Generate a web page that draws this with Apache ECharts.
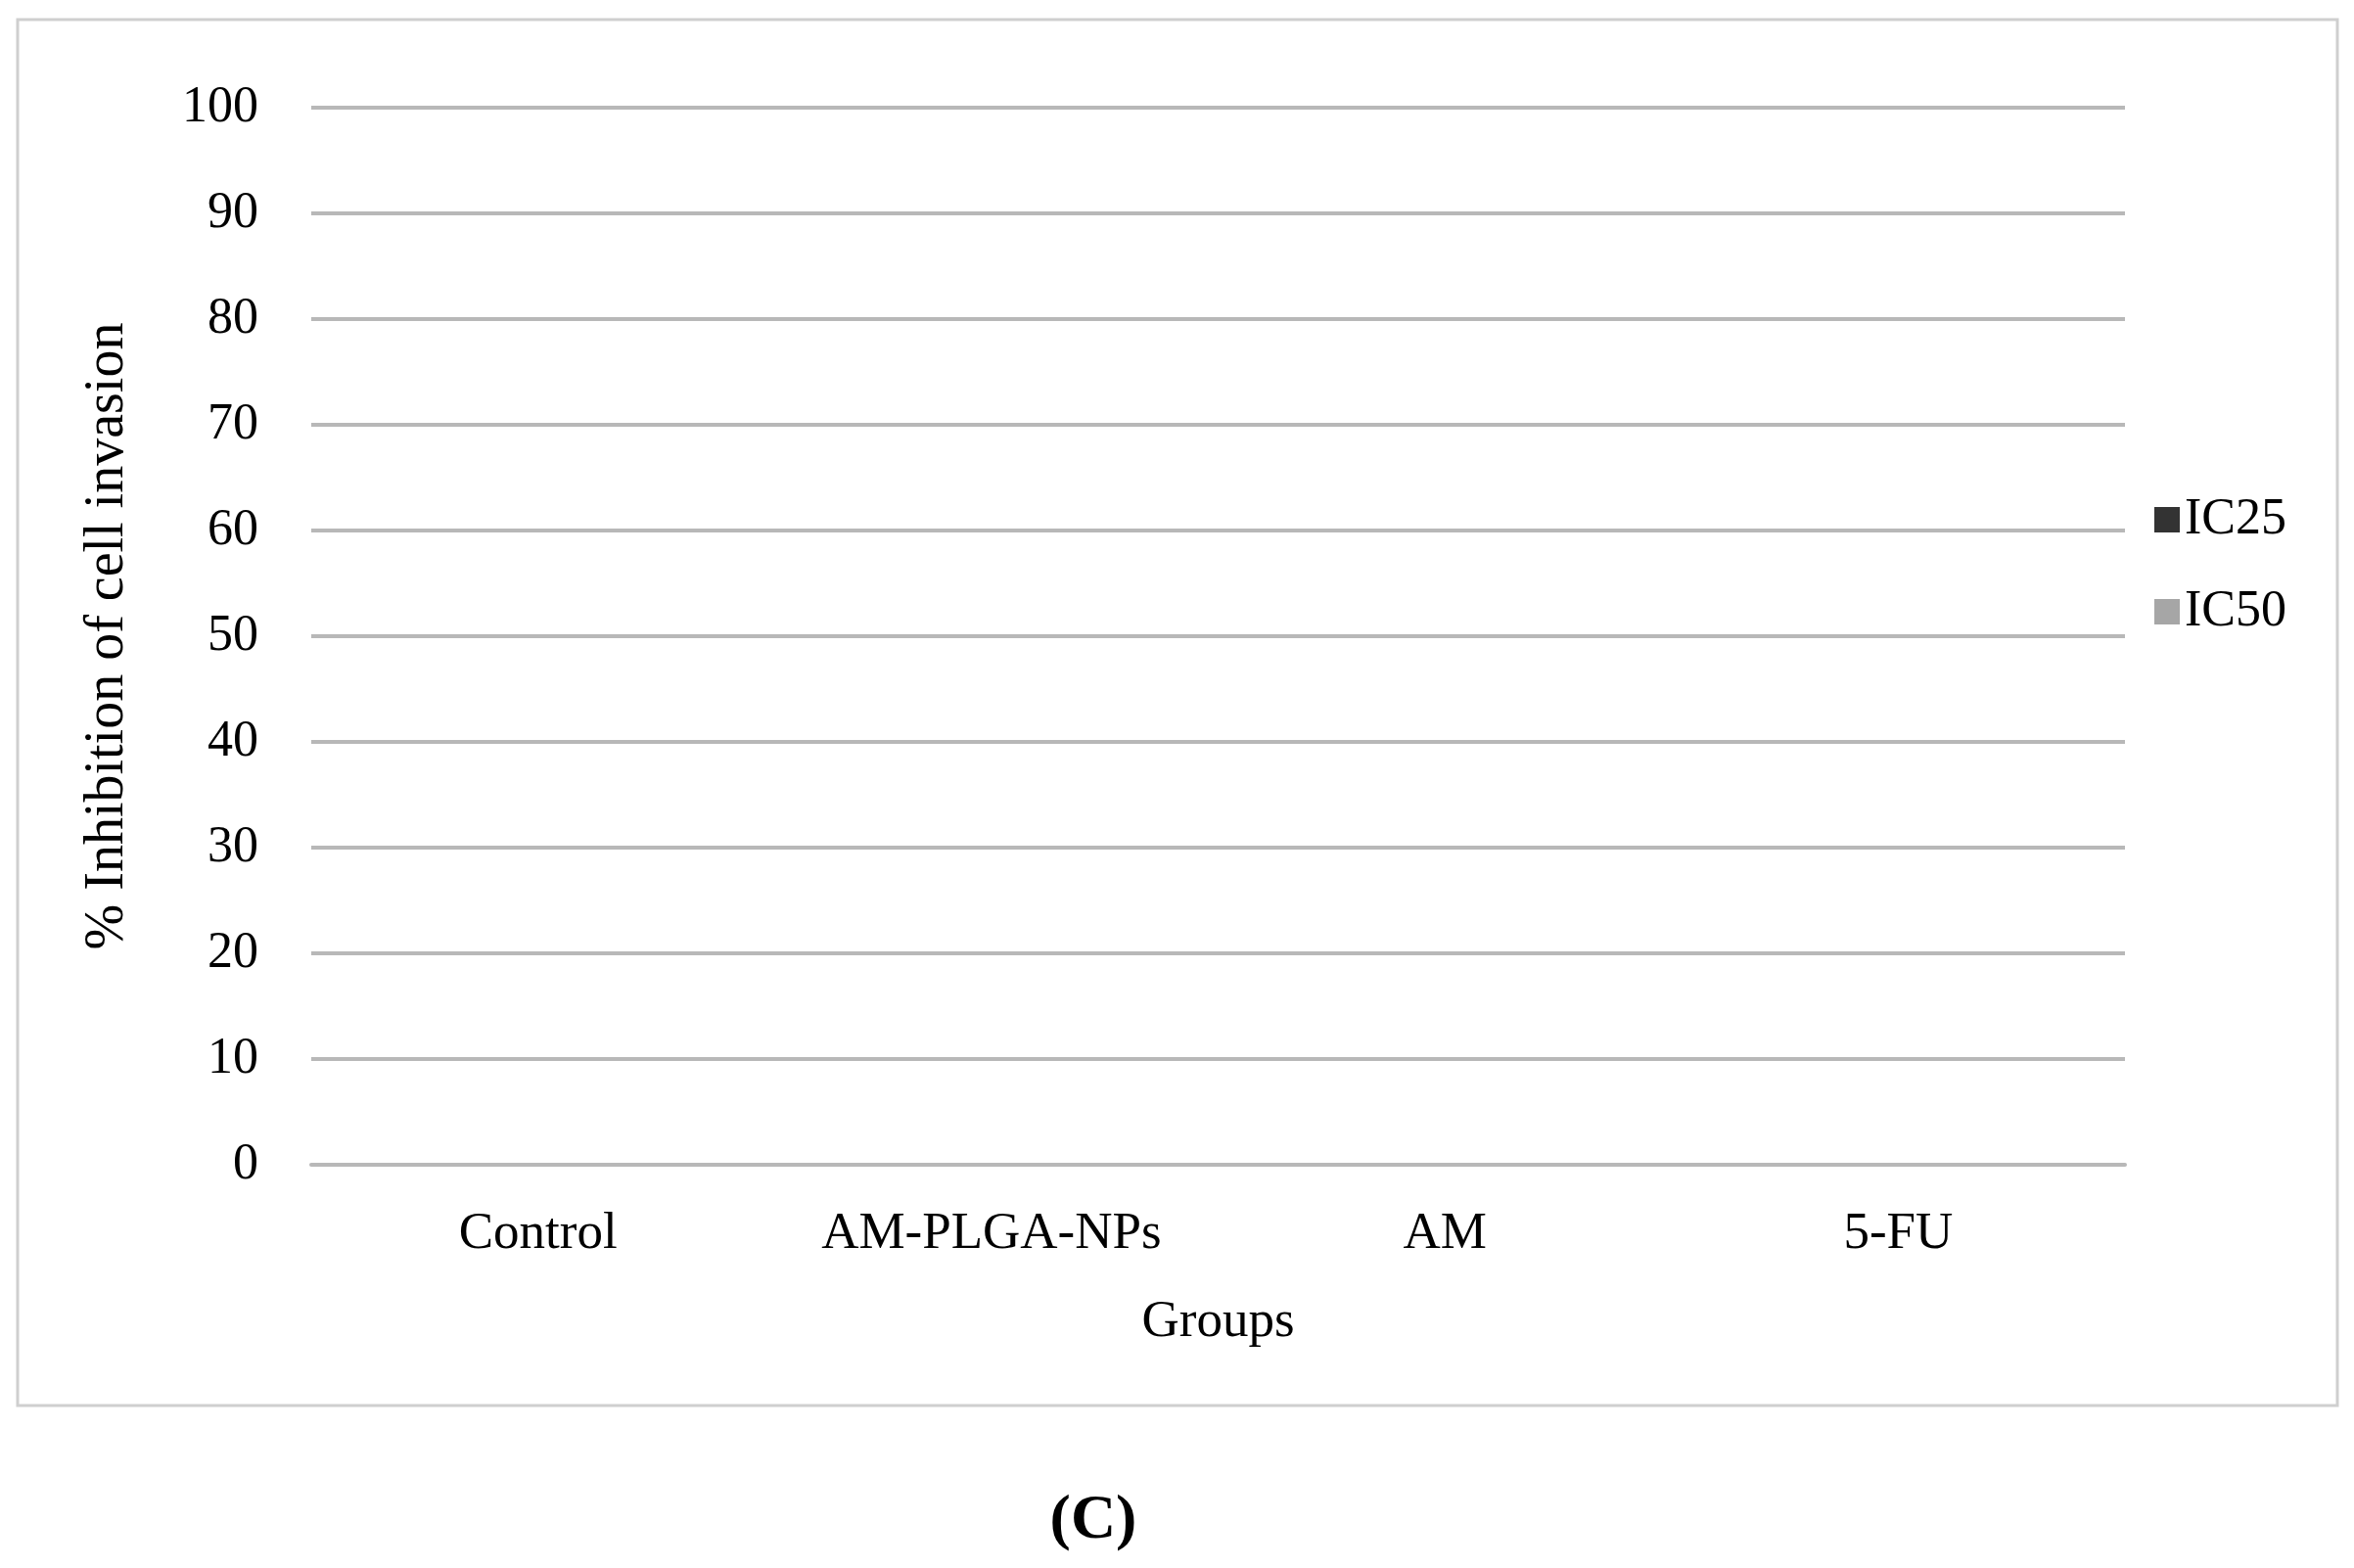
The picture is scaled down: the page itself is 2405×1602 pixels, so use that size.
<!DOCTYPE html>
<html><head><meta charset="utf-8">
<script src="https://cdn.jsdelivr.net/npm/echarts@6/dist/echarts.min.js"></script>
<style>html,body{margin:0;background:#fff}#c{width:2405px;height:1602px}</style>
</head><body><div id="c"></div>
<script>
const categories = ['Control', 'AM-PLGA-NPs', 'AM', '5-FU'];
const ic25 = [0, 0, 0, 0];
const ic50 = [0, 0, 0, 0];
const F = '"Liberation Serif", "DejaVu Serif", serif';
const chart = echarts.init(document.getElementById('c'));
chart.setOption({
  backgroundColor: '#fff',
  animation: false,
  textStyle: { fontFamily: F },
  graphic: [
    { type: 'rect', shape: { x: 18, y: 20, width: 2370, height: 1416 }, style: { fill: 'none', stroke: '#cfcfcf', lineWidth: 3 } },
    { type: 'text', x: 1117, y: 1554, style: { text: '(C)', font: 'bold 64px ' + F, fill: '#000', textAlign: 'center', textVerticalAlign: 'middle' } }
  ],
  legend: {
    orient: 'vertical', left: 2196, top: 500, itemGap: 42, itemWidth: 26, itemHeight: 26,
    icon: 'rect',
    textStyle: { fontSize: 52, fontFamily: F, color: '#000' },
    data: ['IC25', 'IC50']
  },
  grid: { left: 318, right: 234, top: 110, bottom: 412 },
  xAxis: {
    type: 'category', data: categories,
    axisLine: { lineStyle: { color: '#b8b8b8', width: 4 } }, axisTick: { show: false },
    axisLabel: { fontSize: 53, color: '#000', margin: 45, fontFamily: F },
    name: 'Groups', nameLocation: 'middle', nameGap: 135,
    nameTextStyle: { fontSize: 53, color: '#000', fontFamily: F }
  },
  yAxis: {
    type: 'value', min: 0, max: 100, interval: 10,
    axisLine: { show: false }, axisTick: { show: false },
    splitLine: { lineStyle: { color: '#b8b8b8', width: 4 } },
    axisLabel: { fontSize: 52, color: '#000', margin: 54, fontFamily: F },
    name: '% Inhibition of cell invasion', nameLocation: 'middle', nameGap: 180,
    nameTextStyle: { fontSize: 56, color: '#000', fontFamily: F }
  },
  series: [
    { name: 'IC25', type: 'bar', data: ic25, itemStyle: { color: '#333', borderWidth: 0 } },
    { name: 'IC50', type: 'bar', data: ic50, itemStyle: { color: '#a6a6a6', borderWidth: 0 } }
  ]
});
</script></body></html>
